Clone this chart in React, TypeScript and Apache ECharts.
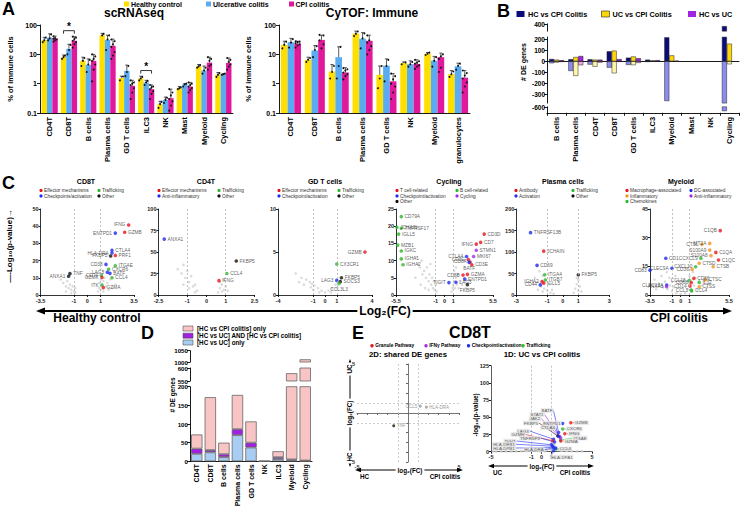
import React, { useEffect, useRef } from "react";
import * as echarts from "echarts";

const F = "'Liberation Sans', Arial, Helvetica, sans-serif";

// ---------------- Panel A : scRNAseq ----------------
const scCats = ["CD4T", "CD8T", "B cells", "Plasma cells", "GD T cells", "ILC3", "NK", "Mast", "Myeloid", "Cycling"];
const scHC = [31, 8, 6, 45, 1.55, 1.5, 0.2, 0.7, 3.9, 2.0];
const scUC = [37, 15.5, 4.4, 31, 2.75, 1.1, 0.28, 0.95, 2.8, 2.1];
const scCPI = [35, 29, 6, 19.5, 0.85, 0.65, 0.32, 0.8, 5.2, 5.1];
const scHCErr = [38, 9.5, 8, 52, 1.8, 1.8, 0.25, 0.8, 4.5, 2.4];
const scUCErr = [50, 22, 7, 45, 4.3, 1.3, 0.35, 1.0, 4.0, 2.2];
const scCPIErr = [42, 40, 10, 33, 1.3, 0.9, 0.65, 1.1, 8.0, 7.5];
const scHCDots = [[26, 30, 37], [7, 8, 9], [4, 6, 7.5], [38, 44, 50], [1.3, 1.6, 1.75], [1.3, 1.5, 1.7], [0.15, 0.2, 0.24], [0.65, 0.7, 0.75], [3.5, 3.9, 4.3], [1.7, 2.0, 2.3]];
const scUCDots = [[30, 35, 48], [10, 14, 21], [2.5, 4.5, 6.5], [14, 32, 44], [1.8, 2.5, 4], [0.9, 1.1, 1.25], [0.22, 0.28, 0.33], [0.8, 0.95, 1.0], [2.2, 2.8, 3.5], [2.0, 2.1, 2.2]];
const scCPIDots = [[27, 30, 32, 34, 36, 38, 41], [17, 22, 26, 29, 33, 37, 40], [1.2, 3, 4.5, 6, 7, 8.5, 10], [7, 9, 12, 18, 22, 28, 32], [0.3, 0.5, 0.7, 0.9, 1.0, 1.1, 1.3], [0.3, 0.45, 0.55, 0.65, 0.75, 0.8, 0.9], [0.12, 0.18, 0.25, 0.3, 0.4, 0.5, 0.65], [0.5, 0.6, 0.7, 0.8, 0.9, 1.0, 1.1], [3, 4, 4.5, 5, 6, 7, 8], [3, 3.8, 4.5, 5, 5.5, 6.5, 7.5]];
const scSigCats = [1, 5];
const scSigLevel = [64, 2.8];
const logTickLabels = ["0.1", "1", "10", "100"];

// ---------------- Panel A : CyTOF ----------------
const cyCats = ["CD4T", "CD8T", "B cells", "Plasma cells", "GD T cells", "NK", "Myeloid", "granulocytes"];
const cyHC = [21, 6.5, 2.6, 51, 2.0, 5.0, 10.5, 2.1];
const cyUC = [26, 13.5, 8, 34, 4.1, 4.6, 6.1, 3.9];
const cyCPI = [23, 31, 2.4, 29, 1.2, 4.7, 8, 1.6];
const cyHCErr = [28, 8, 4.5, 62, 4, 5.5, 11.5, 2.8];
const cyUCErr = [35, 20, 18, 55, 7, 6, 8.5, 5.0];
const cyCPIErr = [28, 45, 3.5, 45, 2.2, 6.5, 11, 2.8];
const cyHCDots = [[16, 21, 27], [5.5, 6.5, 7.5], [1.5, 2.5, 4], [42, 50, 60], [0.7, 1.5, 4], [4.6, 5, 5.3], [9.5, 10.5, 11.5], [1.7, 2.1, 2.6]];
const cyUCDots = [[17, 25, 33], [8, 14, 19], [1.5, 4, 18], [16, 35, 52], [1.2, 4, 6.5], [3.8, 4.6, 5.5], [3.8, 6, 8], [3, 4, 4.8]];
const cyCPIDots = [[17, 20, 22, 24, 26, 27, 28], [11, 16, 22, 30, 38, 44, 46], [1.4, 1.8, 2.1, 2.4, 2.8, 3.1, 3.4], [10, 14, 19, 25, 30, 38, 44], [0.3, 0.5, 0.8, 1.0, 1.4, 1.8, 2.2], [3.2, 3.8, 4.2, 4.8, 5.2, 5.8, 6.5], [2.5, 3.5, 5, 7, 8.5, 10, 11], [0.5, 0.8, 1.1, 1.5, 1.9, 2.3, 2.8]];

// ---------------- Panel B ----------------
const bCats = ["B cells", "Plasma cells", "CD4T", "CD8T", "GD T cells", "ILC3", "Myeloid", "Mast", "NK", "Cycling"];
const bHcCpiUp = [21, 19, 18, 91, 33, 15, 218, 0, 0, 385];
const bHcCpiDown = [-18, -88, -30, -58, -33, -6, -361, 0, 0, -640];
const bUcCpiUp = [15, 39, 15, 97, 44, 8, 54, 0, 0, 160];
const bUcCpiDown = [-12, -133, -49, -109, -35, -3, 0, 0, 0, -27];
const bHcUcUp = [10, 48, 15, 20, 28, 10, 5, 0, 0, 0];
const bHcUcDown = [-5, -36, -12, -5, -15, 0, 0, 0, 0, 0];

// ---------------- Panel C volcanoes ----------------
const c1Genes = ["IFNG", "GZMB", "ENTPD1", "CTLA4", "HLA-DRA", "FKBP5", "PRF1", "CD38", "ITGAE", "CXCR6", "LAG3", "BATF", "CD74", "GZMK", "CCL4", "ITK", "GZMA", "TNF", "ANXA1"];
const c1X = [3.1, 2.8, 2.1, 1.85, 1.85, 1.75, 2.1, 1.4, 2.1, 1.6, 1.5, 1.7, 1.05, 1.1, 1.85, 1.1, 1.2, -1.3, -1.4];
const c1Y = [40.7, 36.5, 36, 26, 24.4, 22.7, 23, 17.8, 17, 15, 13.2, 12.6, 11.3, 10.2, 10, 5.8, 4.3, 12.4, 10.9];
const c1Grp = ["r", "r", "b", "b", "b", "k", "r", "b", "g", "g", "b", "b", "g", "r", "g", "g", "r", "k", "k"];
const c1Side = ["l", "r", "l", "r", "l", "l", "r", "l", "r", "r", "l", "r", "l", "l", "r", "l", "r", "r", "l"];
const c1Gray = [[-2.0, 9], [-1.8, 7], [-1.6, 5], [-1.5, 8], [-1.4, 4], [-1.3, 6], [-1.2, 3], [-1.1, 5], [-1.0, 2], [-0.9, 4], [-0.9, 1.5], [-1.2, 1], [-1.6, 2], [0.8, 2], [0.9, 4], [0.9, 7], [1.0, 9], [1.0, 3], [1.1, 12], [1.1, 6], [1.2, 8], [1.2, 2], [1.3, 10], [1.4, 5], [1.5, 7], [1.6, 3], [1.7, 9], [1.9, 4], [2.1, 6], [1.0, 15], [1.2, 14]];

const c2Genes = ["ANXA1", "FKBP5", "CCL4", "IFNG"];
const c2X = [-2.2, 1.55, 1.06, 0.65];
const c2Y = [65, 39.5, 25, 16.7];
const c2Grp = ["b", "k", "g", "r"];
const c2Side = ["r", "r", "r", "r"];
const c2Gray = [[-1.5, 30], [-1.3, 25], [-1.2, 35], [-1.1, 20], [-1.0, 28], [-0.9, 15], [-0.8, 22], [-0.7, 10], [-0.6, 12], [-0.5, 5], [-0.9, 8], [-1.2, 12], [-0.6, 3], [0.6, 3], [0.7, 8], [0.8, 12], [0.9, 6], [0.9, 18], [1.0, 10], [0.7, 15], [0.8, 4], [1.1, 5]];

const c3Genes = ["GZMB", "CX3CR1", "FKBP5", "LAG3", "SOCS3", "CCL3L3"];
const c3X = [3.4, 1.0, 1.4, 1.0, 1.3, 1.2];
const c3Y = [5.0, 3.6, 2.0, 1.7, 1.55, 1.35];
const c3Grp = ["r", "g", "k", "b", "k", "g"];
const c3Side = ["l", "r", "r", "l", "r", "b"];
const c3Gray = [[-2.5, 2.5], [-2.0, 2], [-1.6, 1.8], [-1.3, 1.5], [-1.1, 1.3], [-0.9, 1.1], [-0.6, 0.8], [-0.3, 0.5], [0, 0.3], [0.3, 0.5], [0.6, 0.8], [0.9, 1.2], [1.1, 1.4], [-1.8, 1.2], [-1.2, 0.9], [-0.5, 0.3], [0.5, 0.3], [1.0, 0.8], [-2.2, 1.5], [-1.0, 0.6]];

const c4Genes = ["CD79A", "JCHAIN", "TNFRSF17", "IGLL5", "MZB1", "IGKC", "IGHA1", "IGHA2", "CD3D", "CD7", "IFNG", "STMN1", "MKI67", "CD3G", "CTLA4", "CD8A", "CD3E", "BATF", "CD8B", "GZMA", "ENTPD1", "TIGIT", "LAG3", "FKBP5"];
const c4X = [-4.9, -5.4, -4.9, -5.2, -5.3, -4.9, -4.9, -4.7, 4.5, 4.1, 3.6, 3.6, 3.3, 2.7, 2.5, 2.9, 3.1, 2.8, 2.1, 2.6, 2.3, 0.5, 1.3, 2.6];
const c4Y = [22.8, 19.7, 19.4, 17.7, 14.5, 12.8, 10.5, 8.8, 17.7, 15.3, 14.8, 13, 11.2, 10.3, 11.2, 9.6, 8.8, 9.5, 5.8, 6.0, 4.6, 3.6, 3.7, 3.0];
const c4Grp = ["g", "g", "g", "g", "g", "g", "g", "g", "r", "r", "r", "p", "p", "r", "b", "r", "r", "b", "r", "r", "b", "b", "b", "k"];
const c4Side = ["r", "r", "r", "r", "r", "r", "r", "r", "r", "r", "l", "r", "r", "l", "l", "l", "r", "b", "l", "r", "r", "l", "r", "b"];
const c4Gray = [[-3.2, 11], [-3.0, 9], [-2.8, 8], [-2.6, 10], [-2.5, 6], [-2.3, 7], [-2.1, 5], [-2.0, 8], [-1.8, 4], [-1.7, 6], [-1.5, 3], [-1.4, 5], [-1.3, 2], [-1.2, 4], [-1.1, 1.5], [-1.0, 3], [-0.9, 1], [-2.7, 3], [-2.2, 2], [-1.8, 1.5], [-3.3, 5], [-1.6, 9], [0.8, 1], [0.9, 2], [1.0, 3], [1.1, 4], [1.2, 2], [1.3, 5], [1.4, 3], [1.5, 6], [1.6, 2], [1.8, 4], [2.0, 3], [2.2, 5], [2.4, 2], [1.1, 7], [1.3, 8]];

const c5Genes = ["TNFRSF13B", "JCHAIN", "CD69", "ITGA4", "ITGB7", "IGHA2", "IGLL5", "CD44", "FKBP5"];
const c5X = [-2.08, -1.23, -1.66, -1.17, -1.13, -1.34, -1.23, -1.45, 1.0];
const c5Y = [145, 102, 69, 47, 35, 31, 27.5, 23.5, 47];
const c5Grp = ["b", "r", "b", "g", "g", "r", "r", "b", "k"];
const c5Side = ["r", "r", "r", "r", "r", "l", "r", "l", "r"];
const c5Gray = [[-1.8, 40], [-1.6, 30], [-1.5, 55], [-1.4, 20], [-1.3, 45], [-1.2, 15], [-1.1, 35], [-1.0, 10], [-0.9, 25], [-0.8, 5], [-0.7, 12], [-1.3, 8], [-1.6, 12], [-0.6, 3], [0.7, 5], [0.8, 15], [0.9, 25], [1.0, 10], [1.0, 35], [1.1, 20], [0.9, 40], [1.2, 8]];

const c6Genes = ["C1QB", "MT2A", "CTSL", "S100A9", "C1QA", "S100A8", "C1QC", "CXCL9", "CTSD", "CTSB", "CXCL10", "CD36", "CD1C", "CLEC9A", "CD83", "CD86", "CTSC", "CCL18", "CD68", "IL32", "CLEC10A", "ANXA1", "CD14", "CTSS", "CCL3", "CCL4"];
const c6X = [4.5, 3.3, 2.4, 3.3, 4.0, 3.45, 4.3, 2.3, 2.1, 3.7, 1.7, 1.3, -1.7, -1.0, -3.5, 1.5, 2.8, 0.95, 1.2, 2.1, -1.6, -1.6, 1.05, 2.1, 1.2, 1.25];
const c6Y = [33.7, 27, 26.5, 23.5, 22.3, 20.6, 18.3, 19.2, 16.6, 14.8, 14.8, 13.4, 19.2, 14, 13, 8.7, 7.9, 7.5, 6.5, 6.6, 5.2, 4.3, 4.7, 4.3, 2.6, 2.1];
const c6Grp = ["r", "o", "o", "o", "r", "o", "r", "g", "o", "o", "g", "o", "b", "b", "b", "r", "o", "g", "r", "g", "b", "p", "r", "o", "g", "g"];
const c6Side = ["l", "l", "l", "l", "r", "l", "r", "l", "r", "r", "l", "l", "r", "l", "l", "r", "r", "l", "l", "r", "l", "l", "l", "r", "l", "r"];
const c6Gray = [[-3.0, 8], [-2.5, 6], [-2.2, 10], [-2.0, 4], [-1.8, 7], [-1.6, 12], [-1.5, 3], [-1.3, 9], [-1.2, 5], [-1.0, 2], [-1.0, 7], [-0.8, 4], [-0.5, 1], [0, 0.5], [0.5, 1], [0.8, 3], [0.9, 6], [1.0, 10], [1.1, 4], [1.2, 8], [1.4, 12], [1.5, 5], [1.7, 9], [1.9, 3], [2.1, 7], [2.4, 5], [2.7, 8], [3.0, 4], [-2.8, 3], [-0.6, 10]];

// ---------------- Panel D ----------------
const dCats = ["CD4T", "CD8T", "B cells", "Plasma cells", "GD T cells", "NK", "ILC3", "Myeloid", "Cycling"];
const dUcOnly = [20, 24, 11, 70, 37, 0, 6, 2, 1];
const dBoth = [14, 6, 8, 16, 13, 0, 5, 3, 1];
const dCpiOnly = [38, 142, 31, 92, 57, 0, 16, 575, 1010];

// ---------------- Panel E ----------------
const e2Genes = ["CCL5", "HLA-DRA", "TNF"];
const e2X = [1.2, 1.8, -1.4];
const e2Y = [0.7, 0.6, -1.3];
const e2Grp = ["q", "q", "k"];
const e2Side = ["l", "r", "r"];

const e1Genes = ["GZMB", "CXCR6", "IFNG", "ITGAE", "GZMA", "CCL4", "HLA-DPA1", "ENTPD1", "BATF", "STAT1", "JAK2", "FKBP5", "CTLA4", "LAG3", "GZMH", "TNFRSF9", "TIGIT", "HLA-DRB1", "HLA-DPB1", "HLA-DRA"];
const e1X = [2.9, 2.1, 2.3, 1.9, 1.9, 1.4, 1.2, 2.1, 1.7, 1.8, 1.9, 1.6, 1.7, 1.2, 1.1, 1.3, 1.0, 1.1, 1.2, 1.4];
const e1Y = [42, 33, 26, 17, 15.5, 4, 1.5, 41, 28, 22, 20, 23, 22, 18, 16, 14, 10, 8, 6, 5];
const e1Grp = ["r", "g", "r", "g", "r", "g", "b", "b", "b", "p", "p", "k", "b", "b", "r", "b", "b", "b", "b", "b"];
const e1LabX: (number | null)[] = [null, null, null, 580, null, null, 562, 552, 547, 537, 535, 531, 548, 523, 518, 530, 510, 504, 504, 534];
const e1LabY: (number | null)[] = [null, null, null, 438, null, null, 457, 423, 410.5, 414.5, 418.7, 423, 427.5, 431, 434.5, 438.2, 441, 444.3, 448, 449.5];
const e1Gray = [[-4.5, 0.5], [-4, 0.5], [-3.5, 0.6], [-3, 0.5], [-2.5, 0.8], [-2, 1], [-1.5, 1.2], [-1, 1.5], [-0.5, 2], [0, 1], [0.5, 2.5], [0.8, 5], [1, 3], [1.1, 7], [1.3, 9], [1.5, 6], [0.9, 11], [1.2, 12], [1.6, 3], [2, 1.5], [2.5, 1], [3, 0.8], [3.5, 0.5], [4, 0.5], [-4.8, 0.3], [-0.2, 0.5], [0.3, 0.8]];

// ---------------- styling ----------------
const YEL = "#FFDF00", BLU = "#5AACF2", MAG = "#E0189C";
const NAVY = "#0C0C78", NAVY_L = "#8C8CF0", YEL_B = "#FFD60A", YEL_L = "#FFF6A8", PUR = "#A024E2", PUR_L = "#F0A8F0";
const D_PINK = "#F9C4C4", D_PUR = "#A21FE4", D_BLUE = "#A9CDF2";
const COL: Record<string, string> = { r: "#E8141B", b: "#1E2BF0", g: "#2DB82D", k: "#111111", p: "#A52BE0", o: "#F5921E", q: "#9a9a9a" };
const BAR_GAP = 0.16;

const lt = (v: number) => Math.log10(v) + 1;
const G = (left: number, top: number, width: number, height: number) => ({ left, top, width, height, outerBoundsMode: "none", containLabel: false });
const lineS = (c = "#000", w = 0.9, onZero = false) => ({ show: true, onZero, lineStyle: { color: c, width: w } });
const tickS = (len = 3, extra: any = {}) => ({ show: true, length: len, lineStyle: { color: "#000", width: 0.9 }, ...extra });
const lab = (size: number, extra: any = {}) => ({ fontSize: size, fontWeight: "bold", color: "#000", fontFamily: F, ...extra });
const noSplit = { show: false };
const plain = (v: number) => String(v);

function errDots(ax: number, means: number[], errs: number[], dots: number[][], g: number) {
  return {
    type: "custom", xAxisIndex: ax, yAxisIndex: ax, silent: true, z: 5,
    data: means.map((m, i) => [i, lt(m)]),
    renderItem: (params: any, api: any) => {
      const i = params.dataIndex;
      const band = api.size([1, 0])[0];
      const bw = (band * (1 - BAR_GAP)) / 3;
      const c = api.coord([i, lt(means[i])]);
      const x = c[0] + (g - 1) * bw;
      const ye = api.coord([i, lt(errs[i])])[1];
      const ch: any[] = [
        { type: "line", shape: { x1: x, y1: c[1], x2: x, y2: ye }, style: { stroke: "#333", lineWidth: 0.8 } },
        { type: "line", shape: { x1: x - 1.6, y1: ye, x2: x + 1.6, y2: ye }, style: { stroke: "#333", lineWidth: 0.8 } },
      ];
      const n = dots[i].length;
      dots[i].forEach((d, k) => {
        const yd = api.coord([i, lt(d)])[1];
        const jx = n <= 3 ? (k - 1) * bw * 0.28 : ((k % 3) - 1) * bw * 0.3;
        ch.push({ type: "circle", shape: { cx: x + jx, cy: yd, r: 0.95 }, style: { fill: "#111" } });
      });
      return { type: "group", children: ch };
    },
  };
}

function sigSeries(ax: number, cats: number[], levels: number[]) {
  return {
    type: "custom", xAxisIndex: ax, yAxisIndex: ax, silent: true, z: 6,
    data: cats.map((c, i) => [c, lt(levels[i])]),
    renderItem: (params: any, api: any) => {
      const i = params.dataIndex;
      const c = api.coord([cats[i], lt(levels[i])]);
      const band = api.size([1, 0])[0];
      const bw = (band * (1 - BAR_GAP)) / 3;
      const x1 = c[0] - bw, x2 = c[0] + bw, y = c[1];
      return {
        type: "group",
        children: [
          { type: "polyline", shape: { points: [[x1, y + 3], [x1, y], [x2, y], [x2, y + 3]] }, style: { stroke: "#000", fill: "none", lineWidth: 0.8 } },
          { type: "text", x: c[0], y: y + 1, style: { text: "*", fontSize: 10, fontWeight: "bold", fontFamily: F, fill: "#000", align: "center", textAlign: "center", verticalAlign: "bottom", textVerticalAlign: "bottom" } },
        ],
      };
    },
  };
}

function aAxes(gi: number, cats: string[]) {
  return {
    x: { gridIndex: gi, type: "category", data: cats, axisLine: lineS(), axisTick: { show: false }, axisLabel: lab(7.5, { rotate: 90, interval: 0, margin: 4 }), splitLine: noSplit },
    y: { gridIndex: gi, type: "value", min: 0, max: 3, interval: 1, axisLine: lineS(), axisTick: tickS(3), axisLabel: lab(7, { margin: 3, formatter: (v: number) => logTickLabels[Math.round(v)] }), splitLine: noSplit },
  };
}

function aBars(gi: number, hc: number[], uc: number[], cpi: number[]) {
  const base = { type: "bar", xAxisIndex: gi, yAxisIndex: gi, barGap: "0%", barCategoryGap: BAR_GAP * 100 + "%", z: 2, silent: true };
  return [
    { ...base, data: hc.map(lt), itemStyle: { color: YEL } },
    { ...base, data: uc.map(lt), itemStyle: { color: BLU } },
    { ...base, data: cpi.map(lt), itemStyle: { color: MAG } },
  ];
}

function volcanoAxes(gi: number, xmin: number, xmax: number, xLabels: number[], ymax: number, yint: number) {
  return {
    x: { gridIndex: gi, type: "value", min: xmin, max: xmax, axisLine: lineS("#000", 0.8), axisTick: tickS(2, { customValues: xLabels }), axisLabel: lab(5.5, { customValues: xLabels, margin: 3, color: "#222" }), splitLine: noSplit },
    y: { gridIndex: gi, type: "value", min: 0, max: ymax, interval: yint, axisLine: lineS("#000", 0.8), axisTick: tickS(2), axisLabel: lab(5.5, { margin: 2, color: "#222" }), splitLine: noSplit },
  };
}

const sidePos = (s: string) => (s === "l" ? "left" : s === "b" ? "bottom" : s === "t" ? "top" : "right");

function volcanoSeries(gi: number, gray: number[][], names: string[], xs: number[], ys: number[], grps: string[], sides: string[]) {
  return [
    {
      type: "scatter", xAxisIndex: gi, yAxisIndex: gi, data: gray, symbolSize: 2.6, itemStyle: { color: "#d2d2d2" }, silent: true, z: 2,
      markLine: { silent: true, symbol: "none", label: { show: false }, lineStyle: { type: [2, 2], color: "#b0b0b0", width: 0.8 }, data: [{ xAxis: -1 }, { xAxis: 1 }] },
    },
    {
      type: "scatter", xAxisIndex: gi, yAxisIndex: gi, symbolSize: 3.6, z: 4, silent: true,
      data: names.map((n, i) => ({ name: n, value: [xs[i], ys[i]], itemStyle: { color: COL[grps[i]] }, label: { position: sidePos(sides[i]) } })),
      label: { show: true, formatter: "{b}", fontSize: 4.8, fontFamily: F, color: "#333", distance: 1.5 },
    },
  ];
}

function buildOption() {
  const grids = [
    G(40, 25, 193, 88), // 0 A sc
    G(279, 25, 191, 88), // 1 A cy
    G(547, 23.8, 192, 7.4), // 2 B top
    G(547, 37.1, 192, 66), // 3 B main
    G(547, 106.8, 192, 6), // 4 B bottom
    G(40.6, 209, 93.4, 86), // 5 CD8T
    G(158.5, 209, 96, 86), // 6 CD4T
    G(278, 209, 94, 86), // 7 GD
    G(396, 209, 97, 86), // 8 Cycling
    G(516.3, 209, 93, 86), // 9 Plasma
    G(650, 209, 79, 86), // 10 Myeloid
    G(190, 350.7, 122, 11.3), // 11 D top
    G(190, 368, 122, 13), // 12 D mid
    G(190, 386.7, 122, 74.6), // 13 D main
    G(357, 364, 102, 98), // 14 E 2D
    G(491, 365.7, 101, 86), // 15 E 1D
  ];
  const xAxes: any[] = [];
  const yAxes: any[] = [];
  const push = (a: any) => { xAxes.push(a.x); yAxes.push(a.y); };

  push(aAxes(0, scCats));
  push(aAxes(1, cyCats));
  // B
  const bHidden = (gi: number) => ({ gridIndex: gi, type: "category", data: bCats, show: false });
  const bY = (gi: number, min: number, max: number, vals: number[]) => ({ gridIndex: gi, type: "value", min, max, axisLine: lineS(), axisTick: tickS(3, { customValues: vals }), axisLabel: lab(6.5, { customValues: vals, margin: 2, formatter: plain }), splitLine: noSplit });
  push({ x: bHidden(2), y: bY(2, 330, 410, [350, 400]) });
  push({ x: { gridIndex: 3, type: "category", data: bCats, axisLine: lineS("#000", 0.9, true), axisTick: { show: false }, axisLabel: { show: false }, splitLine: noSplit }, y: bY(3, -380, 220, [-300, -200, -100, 0, 100, 200]) });
  push({ x: { gridIndex: 4, type: "category", data: bCats, axisLine: lineS(), axisTick: tickS(3), axisLabel: lab(7.5, { rotate: 90, interval: 0, margin: 4 }), splitLine: noSplit }, y: bY(4, -660, -590, [-650, -600]) });
  // C
  push(volcanoAxes(5, -3.5, 3.5, [-3.5, -1, 0, 1, 3.5], 50, 10));
  push(volcanoAxes(6, -2.5, 2.5, [-2.5, -1, 0, 1, 2.5], 100, 25));
  push(volcanoAxes(7, -4, 4, [-4, -1, 0, 1, 4], 10, 5));
  push(volcanoAxes(8, -5.5, 5.5, [-5.5, -1, 0, 1, 5.5], 25, 5));
  push(volcanoAxes(9, -3, 3, [-3, -1, 0, 1, 3], 200, 50));
  push(volcanoAxes(10, -3.5, 5.5, [-3.5, -1, 0, 1, 5.5], 45, 15));
  // D
  const dY = (gi: number, min: number, max: number) => ({ gridIndex: gi, type: "value", min, max, interval: 50, axisLine: lineS(), axisTick: tickS(3), axisLabel: lab(6.2, { margin: 2, formatter: plain }), splitLine: noSplit });
  push({ x: { gridIndex: 11, type: "category", data: dCats, show: false }, y: dY(11, 1000, 1050) });
  push({ x: { gridIndex: 12, type: "category", data: dCats, show: false }, y: dY(12, 550, 600) });
  push({ x: { gridIndex: 13, type: "category", data: dCats, axisLine: lineS(), axisTick: { show: false }, axisLabel: lab(7, { rotate: 90, interval: 0, margin: 3 }), splitLine: noSplit }, y: dY(13, 0, 200) });
  // E
  push({
    x: { gridIndex: 14, type: "value", min: -5, max: 5, interval: 1, axisLine: lineS("#666", 0.9, true), axisTick: { show: true, length: 2, lineStyle: { color: "#666" } }, axisLabel: lab(5.5, { customValues: [-5, 5], margin: 2, color: "#333" }), splitLine: noSplit },
    y: { gridIndex: 14, type: "value", min: -5, max: 5, interval: 1, axisLine: lineS("#666", 0.9, true), axisTick: { show: true, length: 2, lineStyle: { color: "#666" } }, axisLabel: lab(5.5, { customValues: [-5, 5], margin: 2, color: "#333" }), splitLine: noSplit },
  });
  push({
    x: { gridIndex: 15, type: "value", min: -5, max: 5, axisLine: lineS("#333", 0.8), axisTick: tickS(2, { customValues: [-5, -1, 0, 1, 5] }), axisLabel: lab(5.5, { customValues: [-5, -1, 0, 1, 5], margin: 2, color: "#222" }), splitLine: noSplit },
    y: { gridIndex: 15, type: "value", min: 0, max: 125, interval: 25, axisLine: lineS("#333", 0.8), axisTick: tickS(2), axisLabel: lab(5.5, { margin: 2, color: "#222" }), splitLine: noSplit },
  });

  const series: any[] = [];
  // A
  series.push(...aBars(0, scHC, scUC, scCPI));
  series.push(errDots(0, scHC, scHCErr, scHCDots, 0), errDots(0, scUC, scUCErr, scUCDots, 1), errDots(0, scCPI, scCPIErr, scCPIDots, 2));
  series.push(sigSeries(0, scSigCats, scSigLevel));
  series.push(...aBars(1, cyHC, cyUC, cyCPI));
  series.push(errDots(1, cyHC, cyHCErr, cyHCDots, 0), errDots(1, cyUC, cyUCErr, cyUCDots, 1), errDots(1, cyCPI, cyCPIErr, cyCPIDots, 2));
  // B
  const nz = (a: number[]) => a.map((v) => (v === 0 ? "-" : v));
  [2, 3, 4].forEach((gi) => {
    const base = { type: "bar", xAxisIndex: gi, yAxisIndex: gi, barGap: "0%", barCategoryGap: "22%", silent: true };
    const specs: [number[], string, string][] = [
      [bHcCpiUp, NAVY, "a"], [bHcCpiDown, NAVY_L, "a"],
      [bUcCpiUp, YEL_B, "b"], [bUcCpiDown, YEL_L, "b"],
      [bHcUcUp, PUR, "c"], [bHcUcDown, PUR_L, "c"],
    ];
    specs.forEach(([d, c, s]) => series.push({ ...base, stack: "B" + gi + s, data: nz(d), itemStyle: { color: c, borderColor: "#222", borderWidth: 0.5 } }));
  });
  // C
  series.push(...volcanoSeries(5, c1Gray, c1Genes, c1X, c1Y, c1Grp, c1Side));
  series.push(...volcanoSeries(6, c2Gray, c2Genes, c2X, c2Y, c2Grp, c2Side));
  series.push(...volcanoSeries(7, c3Gray, c3Genes, c3X, c3Y, c3Grp, c3Side));
  series.push(...volcanoSeries(8, c4Gray, c4Genes, c4X, c4Y, c4Grp, c4Side));
  series.push(...volcanoSeries(9, c5Gray, c5Genes, c5X, c5Y, c5Grp, c5Side));
  series.push(...volcanoSeries(10, c6Gray, c6Genes, c6X, c6Y, c6Grp, c6Side));
  // D
  [11, 12, 13].forEach((gi) => {
    const base = { type: "bar", xAxisIndex: gi, yAxisIndex: gi, stack: "D" + gi, barCategoryGap: "16%", silent: true };
    series.push({ ...base, data: dUcOnly, itemStyle: { color: D_BLUE, borderColor: "#666", borderWidth: 0.8 } });
    series.push({ ...base, data: dBoth, itemStyle: { color: D_PUR, borderColor: "#666", borderWidth: 0.8 } });
    series.push({ ...base, data: dCpiOnly, itemStyle: { color: D_PINK, borderColor: "#666", borderWidth: 0.8 } });
  });
  // E 2D
  series.push({
    type: "scatter", xAxisIndex: 14, yAxisIndex: 14, symbolSize: 3, z: 4, silent: true,
    data: e2Genes.map((n, i) => ({ name: n, value: [e2X[i], e2Y[i]], itemStyle: { color: COL[e2Grp[i]] }, label: { position: sidePos(e2Side[i]) } })),
    label: { show: true, formatter: "{b}", fontSize: 4.5, fontFamily: F, color: "#777", distance: 1.5 },
    markLine: { silent: true, symbol: "none", label: { show: false }, lineStyle: { type: [2, 2], color: "#c0c0c0", width: 0.8 }, data: [{ xAxis: -1 }, { xAxis: 1 }, { yAxis: -1 }, { yAxis: 1 }] },
  });
  // E 1D
  series.push({
    type: "scatter", xAxisIndex: 15, yAxisIndex: 15, data: e1Gray, symbolSize: 3, itemStyle: { color: "#cfcfcf" }, silent: true, z: 2,
    markLine: { silent: true, symbol: "none", label: { show: false }, lineStyle: { type: [2, 2], color: "#b0b0b0", width: 0.8 }, data: [{ xAxis: -1 }, { xAxis: 1 }] },
  });
  series.push({
    type: "scatter", xAxisIndex: 15, yAxisIndex: 15, symbolSize: 3.4, z: 5, silent: true,
    data: e1Genes.map((n, i) => ({ name: n, value: [e1X[i], e1Y[i]], itemStyle: { color: COL[e1Grp[i]] }, labelLine: { lineStyle: { color: COL[e1Grp[i]] } } })),
    label: { show: true, formatter: "{b}", position: "right", fontSize: 4.4, fontFamily: F, color: "#333", backgroundColor: "#e2e2e2", padding: [0.3, 1], distance: 1.5 },
    labelLine: { show: true, lineStyle: { width: 0.6 } },
    labelLayout: (p: any) => {
      const i = p.dataIndex;
      if (e1LabX[i] == null) return {};
      return { x: e1LabX[i], y: e1LabY[i], align: "center", verticalAlign: "middle" };
    },
  });

  // ---------------- graphic ----------------
  const gr: any[] = [];
  const txt = (x: number, y: number, text: string, size: number, o: any = {}) =>
    gr.push({
      type: "text", x, y, rotation: o.rot || 0, silent: true, z: 100,
      style: {
        text, fontSize: size, fontFamily: F, fontWeight: o.w || "bold", fill: o.c || "#000",
        align: o.a || "left", textAlign: o.a || "left", verticalAlign: o.v || "middle", textVerticalAlign: o.v || "middle",
        backgroundColor: o.bg, padding: o.bg ? [0, 2] : 0,
      },
    });
  const rect = (x: number, y: number, w: number, h: number, fill: string, stroke?: string) =>
    gr.push({ type: "rect", silent: true, z: 100, shape: { x, y, width: w, height: h }, style: { fill, stroke: stroke || "none", lineWidth: 0.6 } });
  const dot = (x: number, y: number, r: number, fill: string) => gr.push({ type: "circle", silent: true, z: 100, shape: { cx: x, cy: y, r }, style: { fill } });
  const ln = (x1: number, y1: number, x2: number, y2: number, w = 1, c = "#000") => gr.push({ type: "line", silent: true, z: 99, shape: { x1, y1, x2, y2 }, style: { stroke: c, lineWidth: w } });
  const tri = (pts: number[][], c = "#000") => gr.push({ type: "polygon", silent: true, z: 100, shape: { points: pts }, style: { fill: c } });

  // Panel letters
  txt(2, 9, "A", 18);
  txt(497, 11, "B", 18);
  txt(2, 183, "C", 18);
  txt(141, 333, "D", 18);
  txt(352, 333, "E", 18);

  // A legend & titles
  rect(124, 1.5, 5, 5, YEL); txt(131, 4, "Healthy control", 7);
  rect(206, 1.5, 5, 5, BLU); txt(213, 4, "Ulcerative colitis", 7);
  rect(289, 1.5, 5, 5, MAG); txt(295.5, 4, "CPI colitis", 7);
  txt(134, 13, "scRNAseq", 12, { a: "center" });
  txt(372, 13, "CyTOF: Immune", 12, { a: "center" });
  txt(10, 69, "% of immune cells", 7.5, { a: "center", rot: Math.PI / 2 });
  txt(248, 69, "% of immune cells", 7.5, { a: "center", rot: Math.PI / 2 });

  // B legend
  rect(516.5, 11, 8, 6, NAVY); txt(528, 14, "HC vs CPI Colitis", 7.3);
  rect(601.5, 11, 8, 6, YEL_B, "#222"); txt(612.5, 14, "UC vs CPI Colitis", 7.3);
  rect(688, 11, 8, 6, PUR); txt(699, 14, "HC vs UC", 7.3);
  txt(523, 62, "# DE genes", 7, { a: "center", rot: Math.PI / 2 });

  // C titles & legends
  const cTitles: [number, string][] = [[86, "CD8T"], [206, "CD4T"], [325, "GD T cells"], [449, "Cycling"], [563, "Plasma cells"], [681, "Myeloid"]];
  cTitles.forEach(([x, t]) => txt(x, 181, t, 7, { a: "center" }));
  const leg = (x: number, y: number, c: string, t: string) => { dot(x, y, 1.6, COL[c]); txt(x + 3, y, t, 4.8, { w: "normal", c: "#333" }); };
  const r1 = 190.5, r2 = 196, r3 = 201.5;
  leg(41, r1, "r", "Effector mechanisms"); leg(41, r2, "b", "Checkpoints/activation"); leg(99, r1, "g", "Trafficking"); leg(99, r2, "k", "Other");
  leg(159, r1, "r", "Effector mechanisms"); leg(159, r2, "b", "Anti-inflammatory"); leg(219, r1, "g", "Trafficking"); leg(219, r2, "k", "Other");
  leg(279, r1, "r", "Effector mechanisms"); leg(279, r2, "b", "Checkpoint/activation"); leg(339, r1, "g", "Trafficking"); leg(339, r2, "k", "Other");
  leg(397, r1, "r", "T cell-related"); leg(397, r2, "b", "Checkpoint/activation"); leg(397, r3, "k", "Other"); leg(457, r1, "g", "B cell-related"); leg(457, r2, "p", "Cycling");
  leg(516, r1, "r", "Antibody"); leg(516, r2, "b", "Activation"); leg(573, r1, "g", "Trafficking"); leg(573, r2, "k", "Other");
  leg(627, r1, "r", "Macrophage-associated"); leg(627, r2, "o", "Inflammatory"); leg(627, r3, "g", "Chemokines"); leg(691, r1, "b", "DC-associated"); leg(691, r2, "p", "Anti-inflammatory");
  txt(9, 246, "—-Log₁₀(p-value)→", 8, { a: "center", rot: Math.PI / 2 });
  // C bottom arrow
  ln(42, 311, 727, 311, 1.8);
  tri([[36, 311], [45, 307.5], [45, 314.5]]);
  tri([[732, 311], [723, 307.5], [723, 314.5]]);
  txt(97, 318, "Healthy control", 12, { a: "center" });
  txt(385, 311, "Log₂(FC)", 12, { a: "center", bg: "#fff" });
  txt(679, 318, "CPI colitis", 12, { a: "center" });

  // D legend
  rect(183, 326, 10, 5, D_PINK, "#555"); txt(197, 328.5, "[HC vs CPI colitis] only", 6.3);
  rect(183, 333.2, 10, 5, D_PUR, "#555"); txt(197, 335.7, "[HC vs UC] AND [HC vs CPI colitis]", 6.3);
  rect(183, 340, 10, 5, D_BLUE, "#555"); txt(197, 342.5, "[HC vs UC] only", 6.3);
  txt(172, 395, "# DE genes", 6.5, { a: "center", rot: Math.PI / 2 });

  // E titles & legend
  txt(470, 332, "CD8T", 16, { a: "center" });
  const eLeg = (x: number, c: string, t: string) => { dot(x, 345.7, 1.7, COL[c]); txt(x + 3.2, 345.7, t, 4.8); };
  eLeg(372, "r", "Granule Pathway"); eLeg(426, "p", "IFNγ Pathway"); eLeg(468.5, "b", "Checkpoint/activation"); eLeg(523, "g", "Trafficking");
  txt(408, 354.5, "2D: shared DE genes", 7.8, { a: "center" });
  txt(542, 354.5, "1D: UC vs CPI colitis", 7.8, { a: "center" });
  // E 2D arrows
  ln(350, 363, 350, 463, 1);
  tri([[350, 359], [347.8, 365], [352.2, 365]]);
  tri([[350, 467], [347.8, 461], [352.2, 461]]);
  txt(349, 369, "UC", 6.3, { a: "center", rot: Math.PI / 2, bg: "#fff" });
  txt(349, 413, "log₂(FC)", 6.3, { a: "center", rot: Math.PI / 2, bg: "#fff" });
  txt(349, 457, "HC", 6.3, { a: "center", rot: Math.PI / 2, bg: "#fff" });
  ln(359, 470, 459, 470, 1);
  tri([[355, 470], [361, 467.8], [361, 472.2]]);
  tri([[463, 470], [457, 467.8], [457, 472.2]]);
  txt(410, 470, "log₂(FC)", 6.3, { a: "center", bg: "#fff" });
  txt(360, 476.5, "HC", 6.3);
  txt(445, 476.5, "CPI colitis", 6.3, { a: "center" });
  // E 1D arrows
  txt(475, 415, "-log₁₀(p-value)", 6.3, { a: "center", rot: Math.PI / 2 });
  ln(492, 466, 590, 466, 1);
  tri([[488, 466], [494, 463.8], [494, 468.2]]);
  tri([[594, 466], [588, 463.8], [588, 468.2]]);
  txt(542, 466, "log₂(FC)", 6.3, { a: "center", bg: "#fff" });
  txt(493, 472.5, "UC", 6.3);
  txt(575, 472.5, "CPI colitis", 6.3, { a: "center" });

  return {
    animation: false,
    backgroundColor: "#fff",
    textStyle: { fontFamily: F },
    grid: grids,
    xAxis: xAxes,
    yAxis: yAxes,
    series,
    graphic: { elements: gr },
  };
}

export default function App() {
  const ref = useRef<HTMLDivElement>(null);
  useEffect(() => {
    const chart = echarts.init(ref.current as HTMLDivElement, null, { renderer: "svg" });
    chart.setOption(buildOption() as any);
    return () => chart.dispose();
  }, []);
  return <div ref={ref} style={{ position: "absolute", left: 0, top: 0, width: 741, height: 506, background: "#fff" }} />;
}
